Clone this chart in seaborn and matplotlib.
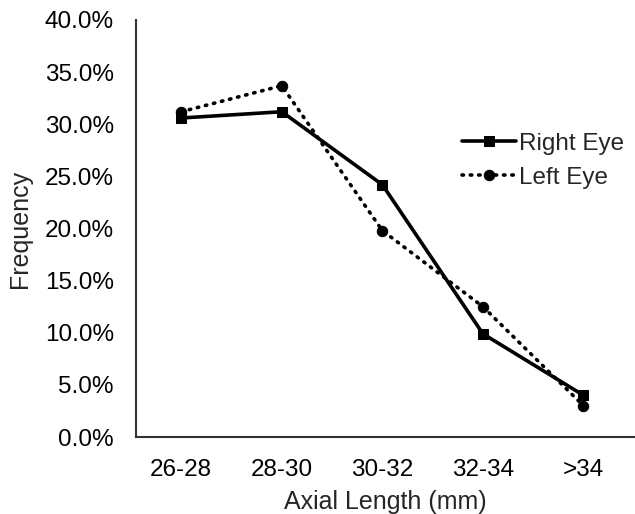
import matplotlib
matplotlib.use("Agg")
import matplotlib.pyplot as plt
import seaborn as sns
import pandas as pd
from matplotlib.ticker import PercentFormatter

categories = ["26-28", "28-30", "30-32", "32-34", ">34"]
right_eye = [30.6, 31.2, 24.2, 9.9, 4.0]
left_eye = [31.2, 33.7, 19.8, 12.5, 3.0]
y_ticks = [0, 5, 10, 15, 20, 25, 30, 35, 40]

sns.set_theme(style="white")
plt.rcParams['font.family'] = ['Liberation Sans', 'DejaVu Sans']

df = pd.DataFrame({
    "cat": categories * 2,
    "val": right_eye + left_eye,
    "eye": ["Right Eye"] * len(categories) + ["Left Eye"] * len(categories),
})
df["x"] = list(range(len(categories))) * 2

fig = plt.figure(figsize=(6.35, 5.14), dpi=100)
ax = fig.add_axes([136/635, 1 - 437/514, 1 - 136/635 - 0.002, (437 - 20)/514])

sns.lineplot(data=df[df.eye == "Right Eye"], x="x", y="val", ax=ax,
             color="black", linewidth=2.6, marker="s", markersize=7.5,
             label="Right Eye", markeredgecolor="black")
sns.lineplot(data=df[df.eye == "Left Eye"], x="x", y="val", ax=ax,
             color="black", linewidth=2.6, linestyle=(0, (0.4, 1.9)),
             marker="o", markersize=7.5,
             label="Left Eye", markeredgecolor="black")
for l in ax.lines:
    l.set_dash_capstyle("round")

ax.set_xlim(-0.45, 4.5)
ax.set_ylim(0, 40)
ax.set_yticks(y_ticks)
ax.yaxis.set_major_formatter(PercentFormatter(decimals=1))
ax.set_xticks(range(len(categories)))
ax.set_xticklabels(categories)
ax.tick_params(axis="both", length=0, labelsize=17.5, colors="black")
ax.tick_params(axis="x", pad=16)
ax.tick_params(axis="y", pad=16)
ax.set_xlabel("Axial Length (mm)", fontsize=18, labelpad=6)
ax.set_ylabel("Frequency", fontsize=18, labelpad=9)

for s in ["top", "right"]:
    ax.spines[s].set_visible(False)
for s in ["left", "bottom"]:
    ax.spines[s].set_color("#333333")
    ax.spines[s].set_linewidth(1.5)

leg = ax.legend(loc="upper right", bbox_to_anchor=(1.0, 0.753), frameon=False,
                fontsize=17.5, handlelength=2.2, handletextpad=0.12,
                labelspacing=0.5, borderaxespad=0, borderpad=0.4)

fig.savefig("out.png", dpi=100)
